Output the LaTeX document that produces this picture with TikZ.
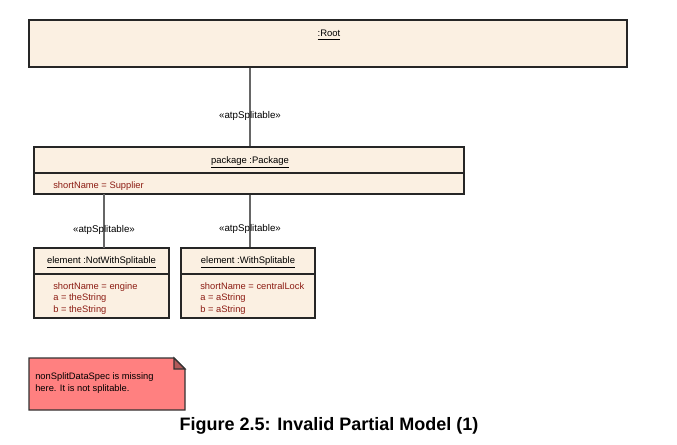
\documentclass[tikz,border=0pt]{standalone}
\usepackage{fontspec}
\setmainfont{Liberation Sans}
\definecolor{umlfill}{HTML}{FBF0E2}
\definecolor{attrred}{HTML}{8C1C13}
\definecolor{notefill}{HTML}{FF8080}
\definecolor{linkgray}{HTML}{666666}
\tikzset{
  objbox/.style={draw=black!85, fill=umlfill, line width=0.8pt, inner sep=0pt},
  objtitle/.style={font=\fontsize{7.1}{8}\selectfont, text=black},
  attrs/.style={font=\fontsize{7}{8.6}\selectfont, text=attrred, anchor=north west, align=left, inner sep=0pt},
  stereo/.style={font=\fontsize{7.3}{8}\selectfont, text=black},
  link/.style={draw=linkgray, line width=1.4pt}
}
\begin{document}
\begin{tikzpicture}[x=0.75pt, y=-0.75pt]
  \useasboundingbox (0,0) rectangle (677,445);
  % objects
  \node[objbox, minimum width=598*0.75pt, minimum height=47*0.75pt] (root) at (328,43.5) {};
  \node[objbox, minimum width=430*0.75pt, minimum height=47*0.75pt] (pkg) at (249,170.5) {};
  \node[objbox, minimum width=135*0.75pt, minimum height=70*0.75pt] (elemA) at (101.5,283) {};
  \node[objbox, minimum width=134*0.75pt, minimum height=70*0.75pt] (elemB) at (248,283) {};
  % compartments
  \draw[draw=black!85, line width=0.8pt] (34,173) -- (464,173);
  \draw[draw=black!85, line width=0.8pt] (34,274) -- (169,274);
  \draw[draw=black!85, line width=0.8pt] (181,274) -- (315,274);
  % titles
  \node[objtitle] (rootname) at (329,35) {\underline{:Root}};
  \node[objtitle] (pkgname) at (250,162) {\underline{package :Package}};
  \node[objtitle] (elemAname) at (101.5,262.5) {\underline{element :NotWithSplitable}};
  \node[objtitle] (elemBname) at (248,262.5) {\underline{element :WithSplitable}};
  % attributes
  \node[attrs] (pkgattr) at (53,181.5) {shortName = Supplier};
  \node[attrs] (elemAattr) at (53,282.5) {shortName = engine\\a = theString\\b = theString};
  \node[attrs] (elemBattr) at (200,282.5) {shortName = centralLock\\a = aString\\b = aString};
  % links
  \coordinate (pkgA) at (104,194);
  \coordinate (elemAtop) at (104,248);
  \draw[link] (root.south -| pkgname) -- (pkgname |- pkg.north)
    node[stereo, pos=0.62] (rootlbl) {«atpSplitable»};
  \draw[link] (pkgA) -- (elemAtop)
    node[stereo, pos=0.66] (elemAlbl) {«atpSplitable»};
  \draw[link] (pkg.south -| elemB) ++(2,0) coordinate (pkgB) -- (pkgB |- elemB.north)
    node[stereo, pos=0.66] (elemBlbl) {«atpSplitable»};
  % note
  \draw[draw=black!80, fill=notefill, line width=0.8pt]
    (29,358) -- (174,358) -- (185,369) -- (185,410) -- (29,410) -- cycle;
  \draw[draw=black!80, fill=notefill!70!black, line width=0.8pt]
    (174,358) -- (174,369) -- (185,369) -- cycle;
  \node[font=\fontsize{7}{9.4}\selectfont, anchor=north west, align=left, inner sep=0pt] (note)
    at (35,372) {nonSplitDataSpec is missing\\here. It is not splitable.};
  % caption
  \node[font=\fontsize{13.5}{16}\selectfont\bfseries] (caption) at (329,426)
    {Figure 2.5: Invalid Partial Model (1)};
\end{tikzpicture}
\end{document}
